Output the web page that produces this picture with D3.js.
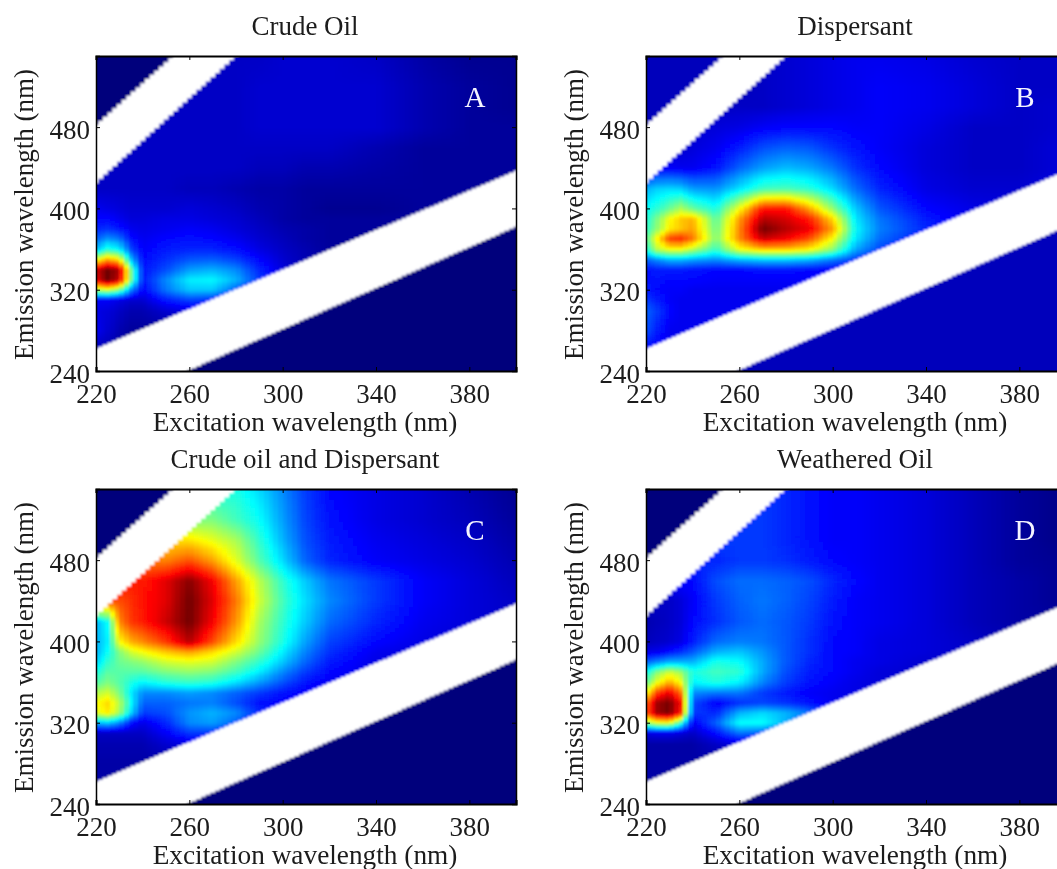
<!DOCTYPE html>
<html>
<head>
<meta charset="utf-8">
<title>Excitation emission matrices</title>
<script src="https://cdn.jsdelivr.net/npm/d3@7"></script>
<style>
  html, body { margin: 0; padding: 0; background: #fff; overflow: hidden; }
  svg { display: block; filter: blur(0.45px); }
  text { font-family: "Liberation Serif", serif; fill: #1c1c1c; }
</style>
</head>
<body>
<div id="app"></div>
<script>
(function (d3) {

  'use strict'

  const panelTitles = ['Crude Oil', 'Dispersant', 'Crude oil and Dispersant', 'Weathered Oil']
  const panelLetters = ['A', 'B', 'C', 'D']
  const xTicks = [220, 260, 300, 340, 380]
  const yTicks = [240, 320, 400, 480]

  // knots, rows run from the top of the plot down
  const excitation = [220, 225, 230, 235, 240, 250, 260, 270, 280, 290, 300, 310, 320, 340, 360, 380, 400]
  const emission = [550, 520, 500, 480, 460, 440, 420, 400, 390, 380, 370, 360, 350, 340, 330, 320, 310, 300, 280, 260, 240]

  // level of the two corners outside the scatter bands
  const cornerLevels = [0, 0.06, 0, 0]

  // scatter bands, [ex, em] end points of each edge
  const upperBandTop = [[220, 482], [253, 550]]
  const upperBandBottom = [[220, 425], [280, 550]]
  const lowerBandTop = [[220, 262], [400, 437]]
  const lowerBandBottom = [[259, 240], [400, 382]]

  const crudeOil = [
    [.07, .07, .07, .07, .07, .07, .07, .07, .07, .07, .08, .08, .08, .07, .04, .02, .02],
    [.07, .07, .07, .07, .07, .07, .07, .07, .07, .08, .08, .08, .08, .08, .05, .03, .02],
    [.07, .07, .07, .07, .07, .07, .07, .07, .07, .08, .08, .08, .08, .08, .05, .03, .02],
    [.07, .07, .07, .07, .07, .07, .07, .07, .07, .08, .08, .08, .08, .08, .05, .03, .03],
    [.07, .07, .07, .07, .07, .07, .07, .07, .07, .07, .07, .07, .07, .05, .03, .03, .03],
    [.07, .07, .07, .07, .07, .07, .07, .07, .07, .06, .06, .05, .05, .04, .03, .03, .03],
    [.07, .07, .07, .07, .07, .07, .06, .06, .05, .04, .04, .03, .03, .03, .03, .03, .03],
    [.11, .10, .09, .08, .08, .08, .09, .08, .07, .05, .04, .03, .02, .02, .03, .03, .03],
    [.13, .13, .11, .09, .09, .10, .10, .09, .08, .06, .04, .03, .03, .03, .03, .03, .03],
    [.16, .17, .15, .11, .10, .11, .12, .11, .09, .07, .05, .04, .03, .03, .03, .03, .03],
    [.22, .27, .24, .14, .11, .13, .14, .13, .11, .08, .06, .04, .03, .03, .03, .03, .03],
    [.32, .42, .38, .20, .12, .15, .16, .16, .14, .10, .07, .05, .03, .03, .03, .03, .03],
    [.62, .72, .66, .32, .13, .17, .21, .22, .19, .13, .08, .05, .03, .03, .03, .03, .03],
    [.92, 1.0, .95, .50, .14, .20, .28, .30, .26, .16, .09, .05, .03, .03, .03, .03, .03],
    [.90, 1.0, .92, .50, .14, .26, .36, .37, .30, .18, .09, .05, .03, .03, .03, .03, .03],
    [.55, .58, .50, .26, .12, .24, .32, .32, .22, .13, .08, .05, .03, .03, .03, .03, .03],
    [.12, .12, .10, .08, .08, .15, .19, .17, .13, .10, .08, .05, .03, .03, .03, .03, .03],
    [.10, .09, .07, .05, .05, .08, .10, .10, .08, .08, .08, .05, .03, .03, .03, .03, .03],
    [.11, .08, .05, .03, .03, .03, .03, .03, .03, .03, .03, .03, .03, .03, .03, .03, .03],
    [.05, .05, .03, .03, .03, .03, .03, .03, .03, .03, .03, .03, .03, .03, .03, .03, .03],
    [.05, .05, .03, .03, .03, .03, .03, .03, .03, .03, .03, .03, .03, .03, .03, .03, .03]
  ]

  const dispersant = [
    [.06, .06, .06, .06, .06, .06, .06, .07, .08, .09, .10, .11, .11, .10, .08, .07, .07],
    [.06, .06, .06, .06, .06, .06, .06, .07, .08, .09, .10, .11, .12, .11, .09, .07, .07],
    [.07, .07, .07, .07, .07, .07, .07, .07, .08, .09, .10, .11, .12, .11, .09, .07, .08],
    [.07, .07, .07, .07, .08, .09, .10, .12, .13, .13, .13, .12, .12, .10, .07, .07, .08],
    [.08, .08, .08, .08, .09, .11, .15, .20, .22, .21, .17, .14, .12, .09, .07, .07, .09],
    [.12, .12, .12, .11, .11, .14, .22, .28, .31, .29, .24, .17, .13, .09, .07, .07, .09],
    [.30, .33, .34, .33, .28, .27, .35, .44, .45, .42, .34, .23, .16, .10, .08, .08, .10],
    [.38, .42, .48, .55, .48, .40, .62, .86, .86, .72, .52, .32, .21, .13, .10, .09, .10],
    [.40, .50, .62, .68, .70, .46, .72, .94, .91, .85, .66, .35, .24, .15, .10, .10, .10],
    [.42, .52, .64, .68, .72, .48, .74, 1.0, .94, .89, .72, .37, .25, .16, .10, .10, .10],
    [.46, .64, .82, .84, .76, .50, .74, .92, .88, .80, .62, .35, .23, .14, .11, .10, .10],
    [.40, .55, .60, .60, .54, .42, .60, .66, .66, .62, .50, .28, .19, .13, .11, .10, .10],
    [.22, .26, .30, .30, .28, .26, .30, .32, .32, .30, .24, .18, .14, .12, .10, .10, .10],
    [.14, .15, .15, .15, .14, .13, .13, .14, .14, .13, .12, .12, .12, .10, .10, .10, .10],
    [.14, .14, .13, .13, .13, .12, .12, .12, .12, .12, .12, .12, .12, .10, .10, .10, .10],
    [.15, .13, .12, .12, .11, .11, .11, .11, .11, .11, .11, .11, .11, .10, .10, .10, .10],
    [.18, .15, .12, .11, .11, .11, .11, .11, .11, .11, .11, .11, .11, .10, .10, .10, .10],
    [.22, .18, .13, .11, .11, .11, .11, .11, .11, .11, .11, .11, .11, .10, .10, .10, .10],
    [.20, .15, .11, .11, .11, .11, .11, .11, .11, .11, .11, .11, .11, .10, .10, .10, .10],
    [.12, .11, .11, .11, .11, .11, .11, .11, .11, .11, .11, .11, .11, .10, .10, .10, .10],
    [.12, .11, .11, .11, .11, .11, .11, .11, .11, .11, .11, .11, .11, .10, .10, .10, .10]
  ]

  const crudeAndDispersant = [
    [.40, .40, .40, .40, .40, .40, .40, .40, .40, .34, .26, .18, .13, .10, .08, .05, .02],
    [.50, .50, .50, .50, .50, .50, .50, .50, .44, .38, .28, .19, .14, .10, .08, .06, .03],
    [.65, .65, .65, .65, .65, .65, .65, .60, .54, .42, .30, .20, .15, .11, .09, .07, .04],
    [.75, .75, .75, .75, .75, .75, .80, .72, .60, .46, .34, .22, .16, .12, .10, .08, .05],
    [.85, .85, .85, .85, .85, .90, .98, .88, .72, .56, .42, .32, .24, .18, .12, .09, .06],
    [.80, .80, .80, .83, .86, .90, 1.0, .90, .76, .58, .44, .34, .26, .18, .12, .09, .07],
    [.30, .38, .74, .82, .85, .92, 1.0, .88, .73, .54, .42, .32, .23, .16, .11, .09, .07],
    [.30, .36, .62, .70, .74, .82, .94, .80, .66, .52, .40, .28, .19, .13, .10, .08, .06],
    [.30, .38, .50, .58, .62, .68, .72, .66, .58, .48, .36, .25, .17, .11, .09, .08, .06],
    [.33, .42, .48, .50, .52, .58, .60, .58, .50, .42, .32, .22, .15, .10, .09, .08, .06],
    [.40, .46, .46, .46, .46, .50, .52, .50, .44, .36, .26, .18, .13, .10, .09, .08, .06],
    [.46, .50, .46, .40, .36, .40, .42, .40, .34, .27, .20, .14, .11, .10, .09, .08, .06],
    [.55, .58, .50, .36, .26, .26, .28, .26, .22, .18, .14, .12, .10, .10, .09, .08, .06],
    [.62, .66, .56, .38, .22, .22, .24, .25, .20, .14, .12, .11, .10, .10, .09, .08, .06],
    [.60, .64, .54, .34, .18, .20, .27, .30, .26, .16, .12, .11, .10, .10, .09, .08, .06],
    [.30, .32, .26, .14, .10, .16, .26, .28, .22, .14, .12, .11, .10, .10, .09, .08, .06],
    [.07, .07, .07, .07, .07, .12, .18, .18, .14, .12, .11, .10, .10, .10, .09, .08, .06],
    [.05, .05, .05, .05, .05, .08, .10, .10, .10, .10, .10, .10, .10, .10, .09, .08, .06],
    [.04, .04, .04, .04, .04, .04, .04, .04, .04, .04, .04, .04, .04, .04, .04, .04, .04],
    [.04, .04, .04, .04, .04, .04, .04, .04, .04, .04, .04, .04, .04, .04, .04, .04, .04],
    [.04, .04, .04, .04, .04, .04, .04, .04, .04, .04, .04, .04, .04, .04, .04, .04, .04]
  ]

  const weatheredOil = [
    [.18, .18, .18, .18, .18, .18, .18, .18, .16, .14, .12, .12, .11, .09, .06, .03, .01],
    [.18, .18, .18, .18, .18, .18, .18, .18, .16, .14, .12, .12, .11, .09, .06, .03, .01],
    [.18, .18, .18, .18, .18, .18, .18, .18, .16, .14, .12, .12, .11, .09, .06, .03, .01],
    [.16, .16, .16, .16, .16, .16, .18, .18, .17, .15, .13, .12, .11, .09, .06, .03, .02],
    [.13, .13, .13, .13, .13, .20, .23, .23, .22, .20, .16, .13, .11, .09, .06, .04, .02],
    [.07, .07, .07, .09, .12, .18, .22, .24, .22, .19, .15, .12, .11, .09, .06, .04, .02],
    [.05, .06, .07, .09, .13, .17, .21, .23, .21, .18, .14, .12, .11, .09, .06, .04, .03],
    [.06, .07, .08, .10, .15, .23, .25, .24, .21, .17, .13, .12, .10, .09, .07, .05, .03],
    [.10, .11, .14, .17, .21, .30, .32, .27, .21, .17, .13, .12, .10, .09, .07, .05, .03],
    [.22, .26, .30, .30, .30, .40, .38, .29, .21, .16, .13, .11, .10, .08, .07, .05, .03],
    [.38, .50, .58, .52, .40, .44, .42, .29, .20, .15, .13, .11, .09, .08, .07, .05, .03],
    [.48, .62, .72, .62, .36, .40, .36, .25, .18, .14, .12, .10, .09, .08, .07, .05, .03],
    [.62, .82, .90, .76, .26, .24, .24, .18, .15, .12, .11, .10, .09, .08, .07, .05, .03],
    [.78, .96, 1.0, .86, .20, .12, .17, .19, .17, .14, .11, .10, .09, .08, .07, .05, .03],
    [.80, .96, 1.0, .84, .18, .16, .30, .34, .30, .24, .13, .10, .09, .08, .07, .05, .03],
    [.52, .60, .62, .42, .11, .22, .38, .38, .30, .20, .12, .10, .09, .08, .07, .05, .03],
    [.10, .11, .11, .09, .07, .14, .24, .22, .17, .14, .12, .10, .09, .08, .07, .05, .03],
    [.04, .04, .04, .04, .04, .07, .10, .10, .10, .10, .10, .10, .09, .08, .07, .05, .03],
    [.04, .04, .04, .04, .04, .04, .04, .04, .04, .04, .04, .04, .04, .04, .04, .04, .03],
    [.04, .04, .04, .04, .04, .04, .04, .04, .04, .04, .04, .04, .04, .04, .04, .04, .03],
    [.04, .04, .04, .04, .04, .04, .04, .04, .04, .04, .04, .04, .04, .04, .04, .04, .03]
  ]

  const panelValues = [crudeOil, dispersant, crudeAndDispersant, weatheredOil]

  const width = 1057
  const height = 869
  const plotW = 420
  const plotH = 315
  const lefts = [96, 646]
  const tops = [56, 489]

  const jet = d3.scaleLinear()
    .domain([0, 0.125, 0.375, 0.625, 0.875, 1])
    .range(['#00007c', '#0000ff', '#00ffff', '#ffff00', '#ff0000', '#700000'])
    .clamp(true)

  const x = d3.scaleLinear().domain([220, 400]).range([0, plotW])
  const y = d3.scaleLinear().domain([240, 550]).range([plotH, 0])

  const edge = function (ends) {
    return d3.scaleLinear().domain([ends[0][0], ends[1][0]]).range([ends[0][1], ends[1][1]])
  }
  const upTop = edge(upperBandTop)
  const upBottom = edge(upperBandBottom)
  const lowTop = edge(lowerBandTop)
  const lowBottom = edge(lowerBandBottom)

  // resample the knots onto the 2 nm instrument raster
  const emAscending = emission.slice().reverse()
  const sample = function (values, ex, em) {
    const i = Math.min(d3.bisectRight(excitation, ex), excitation.length - 1) - 1
    const j = Math.min(d3.bisectRight(emAscending, em), emAscending.length - 1) - 1
    const tx = (ex - excitation[i]) / (excitation[i + 1] - excitation[i])
    const ty = (em - emAscending[j]) / (emAscending[j + 1] - emAscending[j])
    const r0 = values[emission.length - 1 - j]
    const r1 = values[emission.length - 2 - j]
    return d3.interpolateNumber(
      d3.interpolateNumber(r0[i], r0[i + 1])(tx),
      d3.interpolateNumber(r1[i], r1[i + 1])(tx)
    )(ty)
  }

  const exRaster = d3.range(218, 402, 2)
  const emRaster = d3.range(238, 552, 2)
  const margin = 6

  const cellsFor = function (index) {
    const values = panelValues[index]
    const cells = []
    exRaster.forEach(function (ex) {
      emRaster.forEach(function (em) {
        const cx = ex + 1
        const cy = em + 1
        // cells well inside a band stay out, the band shape covers the rest
        if (cy < upTop(cx) - margin && cy > upBottom(cx) + margin) return
        if (cy < lowTop(cx) - margin && cy > lowBottom(cx) + margin) return
        const corner = cy > (upTop(cx) + upBottom(cx)) / 2 || cy < (lowTop(cx) + lowBottom(cx)) / 2
        const v = corner ? cornerLevels[index] : sample(values, Math.max(cx, 220), Math.max(cy, 240))
        cells.push({ ex: ex, em: em, v: v })
      })
    })
    return cells
  }

  const bandArea = function (top, bottom) {
    return d3.area()
      .curve(d3.curveStep)
      .x(d => x(d))
      .y0(d => y(bottom(d)))
      .y1(d => y(top(d)))
  }

  const svg = d3.select('#app')
    .append('svg')
    .attr('width', width)
    .attr('height', height)

  const defs = svg.append('defs')
  defs.append('filter')
    .attr('id', 'soft')
    .attr('x', '-2%').attr('y', '-2%').attr('width', '104%').attr('height', '104%')
    .append('feGaussianBlur')
    .attr('stdDeviation', 0.8)
  defs.append('clipPath')
    .attr('id', 'plot')
    .append('rect')
    .attr('width', plotW)
    .attr('height', plotH)

  panelTitles.forEach(function (title, index) {
    const left = lefts[index % 2]
    const top = tops[index < 2 ? 0 : 1]
    const g = svg.append('g').attr('transform', 'translate(' + left + ',' + top + ')')

    const heat = g.append('g')
      .attr('clip-path', 'url(#plot)')
      .append('g')
      .attr('filter', 'url(#soft)')

    heat.selectAll('rect')
      .data(cellsFor(index))
      .enter()
      .append('rect')
      .attr('x', d => x(d.ex))
      .attr('y', d => y(d.em + 2))
      .attr('width', x(222) - x(220) + 0.5)
      .attr('height', y(240) - y(242) + 0.5)
      .attr('shape-rendering', 'crispEdges')
      .attr('fill', d => jet(d.v))

    heat.append('path')
      .attr('d', bandArea(upTop, upBottom)(d3.range(214, 296, 2)))
      .attr('fill', '#fff')
    heat.append('path')
      .attr('d', bandArea(lowTop, lowBottom)(d3.range(214, 408, 2)))
      .attr('fill', '#fff')

    // box and inward ticks on all four sides
    const bottom = g.append('g').attr('class', 'horizontal').attr('transform', 'translate(0,' + plotH + ')')
      .call(d3.axisBottom(x).tickValues(xTicks).tickSize(-4).tickPadding(12).tickFormat(d3.format('d')))
    const leftAxis = g.append('g').attr('class', 'vertical')
      .call(d3.axisLeft(y).tickValues(yTicks).tickSize(-4).tickPadding(6).tickFormat(d3.format('d')))
    g.append('g').attr('class', 'horizontal')
      .call(d3.axisTop(x).tickValues(xTicks).tickSize(-4).tickFormat(''))
    g.append('g').attr('class', 'vertical').attr('transform', 'translate(' + plotW + ',0)')
      .call(d3.axisRight(y).tickValues(yTicks).tickSize(-4).tickFormat(''))

    g.selectAll('.horizontal .domain').attr('stroke', '#000').attr('stroke-width', 2.2)
    g.selectAll('.vertical .domain').attr('stroke', '#000').attr('stroke-width', 1.5)
    g.selectAll('.tick line').attr('stroke', '#000').attr('stroke-width', 1)
    g.selectAll('.tick text').style('font-family', '"Liberation Serif", serif').style('font-size', '27px').attr('fill', '#1c1c1c')

    bottom.selectAll('.tick text').attr('y', 0).attr('dy', 0).attr('transform', 'translate(0,32)')
    leftAxis.selectAll('.tick text').attr('dy', 0).attr('transform', 'translate(0,11)')

    g.append('text')
      .attr('x', plotW / 2 - 1)
      .attr('y', -21)
      .attr('text-anchor', 'middle')
      .style('font-size', '27px')
      .text(title)

    g.append('text')
      .attr('x', plotW / 2 - 1)
      .attr('y', plotH + 60)
      .attr('text-anchor', 'middle')
      .style('font-size', '27.3px')
      .text('Excitation wavelength (nm)')

    g.append('text')
      .attr('transform', 'translate(-63,' + (plotH / 2 + 1) + ') rotate(-90)')
      .attr('text-anchor', 'middle')
      .style('font-size', '27px')
      .text('Emission wavelength (nm)')

    g.append('text')
      .attr('x', 379)
      .attr('y', 51)
      .attr('text-anchor', 'middle')
      .style('font-size', '29px')
      .style('fill', '#f4f4ff')
      .text(panelLetters[index])
  })

}(d3))
</script>
</body>
</html>
